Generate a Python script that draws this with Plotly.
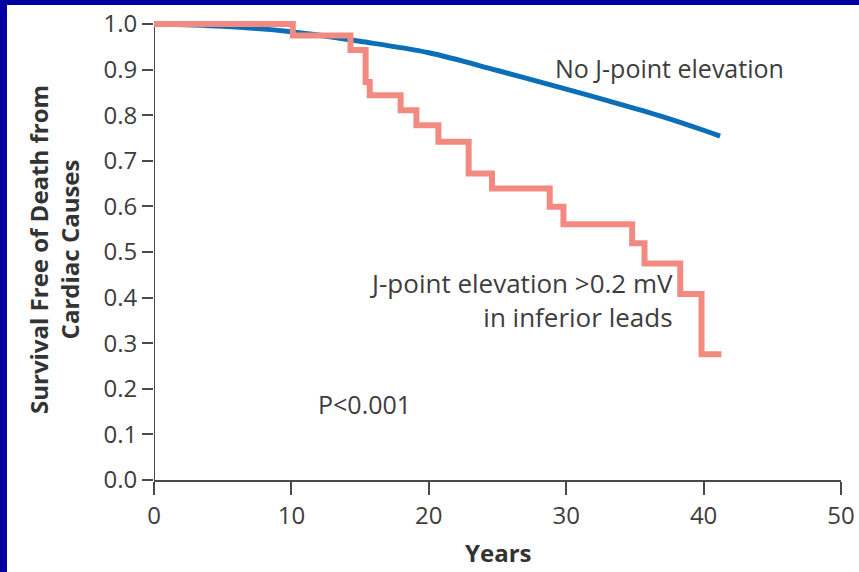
import plotly.graph_objects as go

# ---- data ----
no_j_years = [0, 5, 10, 15, 20, 25, 30, 33, 37, 40, 41.2]
no_j_surv = [1.0, 0.995, 0.983, 0.962, 0.937, 0.898, 0.857, 0.832, 0.797, 0.767, 0.754]

j_years = [0, 10.1, 14.3, 15.4, 15.7, 17.95, 19.1, 20.7, 22.9, 24.6, 28.8, 29.8,
           34.8, 35.7, 38.3, 39.85, 41.3]
j_surv = [1.0, 0.975, 0.943, 0.873, 0.844, 0.811, 0.778, 0.742, 0.672, 0.639, 0.599,
          0.561, 0.519, 0.475, 0.408, 0.276, 0.276]

x_ticks = [0, 10, 20, 30, 40, 50]
y_ticks = [0.0, 0.1, 0.2, 0.3, 0.4, 0.5, 0.6, 0.7, 0.8, 0.9, 1.0]
y_tick_labels = ["0.0", "0.1", "0.2", "0.3", "0.4", "0.5", "0.6", "0.7", "0.8", "0.9", "1.0"]

BLUE = "#0a6fb8"
RED = "#f28a82"
NAVY = "#0000a0"
AXIS = "#4a4a4a"
TEXT = "#3d3d3d"
FONT = "Open Sans"

fig = go.Figure()
fig.add_trace(go.Scatter(x=no_j_years, y=no_j_surv, mode="lines",
                         line=dict(color=BLUE, width=5, shape="spline"),
                         showlegend=False, hoverinfo="skip"))
fig.add_trace(go.Scatter(x=j_years, y=j_surv, mode="lines",
                         line=dict(color=RED, width=6, shape="hv"),
                         showlegend=False, hoverinfo="skip"))

W, H = 859, 572
L, R, T, B = 154, 18, 17, 92
pw, ph = W - L - R, H - T - B


def px_x(p):
    return (p - L) / pw


def px_y(p):
    return (H - B - p) / ph


fig.update_layout(
    width=W, height=H,
    margin=dict(l=L, r=R, t=T, b=B, pad=0),
    paper_bgcolor=NAVY, plot_bgcolor="white",
    font=dict(family=FONT, color=TEXT, size=24),
    xaxis=dict(range=[0, 50], tickvals=x_ticks, ticks="outside", ticklen=13,
               tickwidth=2, tickcolor=AXIS, showline=True, linecolor=AXIS,
               linewidth=2, showgrid=False, zeroline=False, automargin=False,
               tickfont=dict(family=FONT, size=24, color=TEXT)),
    yaxis=dict(range=[0, ph / 456.0], tickvals=y_ticks, ticktext=y_tick_labels,
               ticks="outside", ticklen=11, tickwidth=2, tickcolor=AXIS,
               showline=False, showgrid=False, zeroline=False, automargin=False,
               tickfont=dict(family=FONT, size=24, color=TEXT)),
    shapes=[
        dict(type="rect", xref="paper", yref="paper",
             x0=px_x(7), x1=px_x(W + 60), y0=px_y(H + 60), y1=px_y(5),
             fillcolor="white", line=dict(width=0), layer="below"),
        dict(type="line", xref="x", yref="y", x0=0, x1=0, y0=0, y1=1.0,
             line=dict(color=AXIS, width=2), layer="below"),
    ],
    annotations=[
        dict(text="No J-point elevation", xref="paper", yref="paper",
             x=px_x(553), y=px_y(68), xanchor="left", yanchor="middle",
             showarrow=False, font=dict(size=25, color=TEXT)),
        dict(text="J-point elevation >0.2 mV<br>in inferior leads", xref="paper", yref="paper",
             x=px_x(675), y=px_y(300), xanchor="right", yanchor="middle", align="right",
             showarrow=False, font=dict(size=26, color=TEXT)),
        dict(text="P<0.001", xref="paper", yref="paper",
             x=px_x(316), y=px_y(404), xanchor="left", yanchor="middle",
             showarrow=False, font=dict(size=25, color=TEXT)),
        dict(text="<b>Years</b>", xref="paper", yref="paper",
             x=px_x(498), y=px_y(571), xanchor="center", yanchor="bottom",
             showarrow=False, font=dict(size=24, color="#333333")),
        dict(text="<b>Survival Free of Death from<br>Cardiac Causes</b>", xref="paper", yref="paper",
             x=px_x(54), y=px_y(250), xanchor="center", yanchor="middle",
             textangle=-90, showarrow=False, font=dict(size=24, color="#333333")),
    ],
)

fig.write_html("out.html", config={"displayModeBar": False},
               post_script="document.documentElement.style.background='white';"
                           "document.body.style.margin='0';"
                           "document.body.style.background='white';"
                           "document.body.style.overflow='hidden';")
